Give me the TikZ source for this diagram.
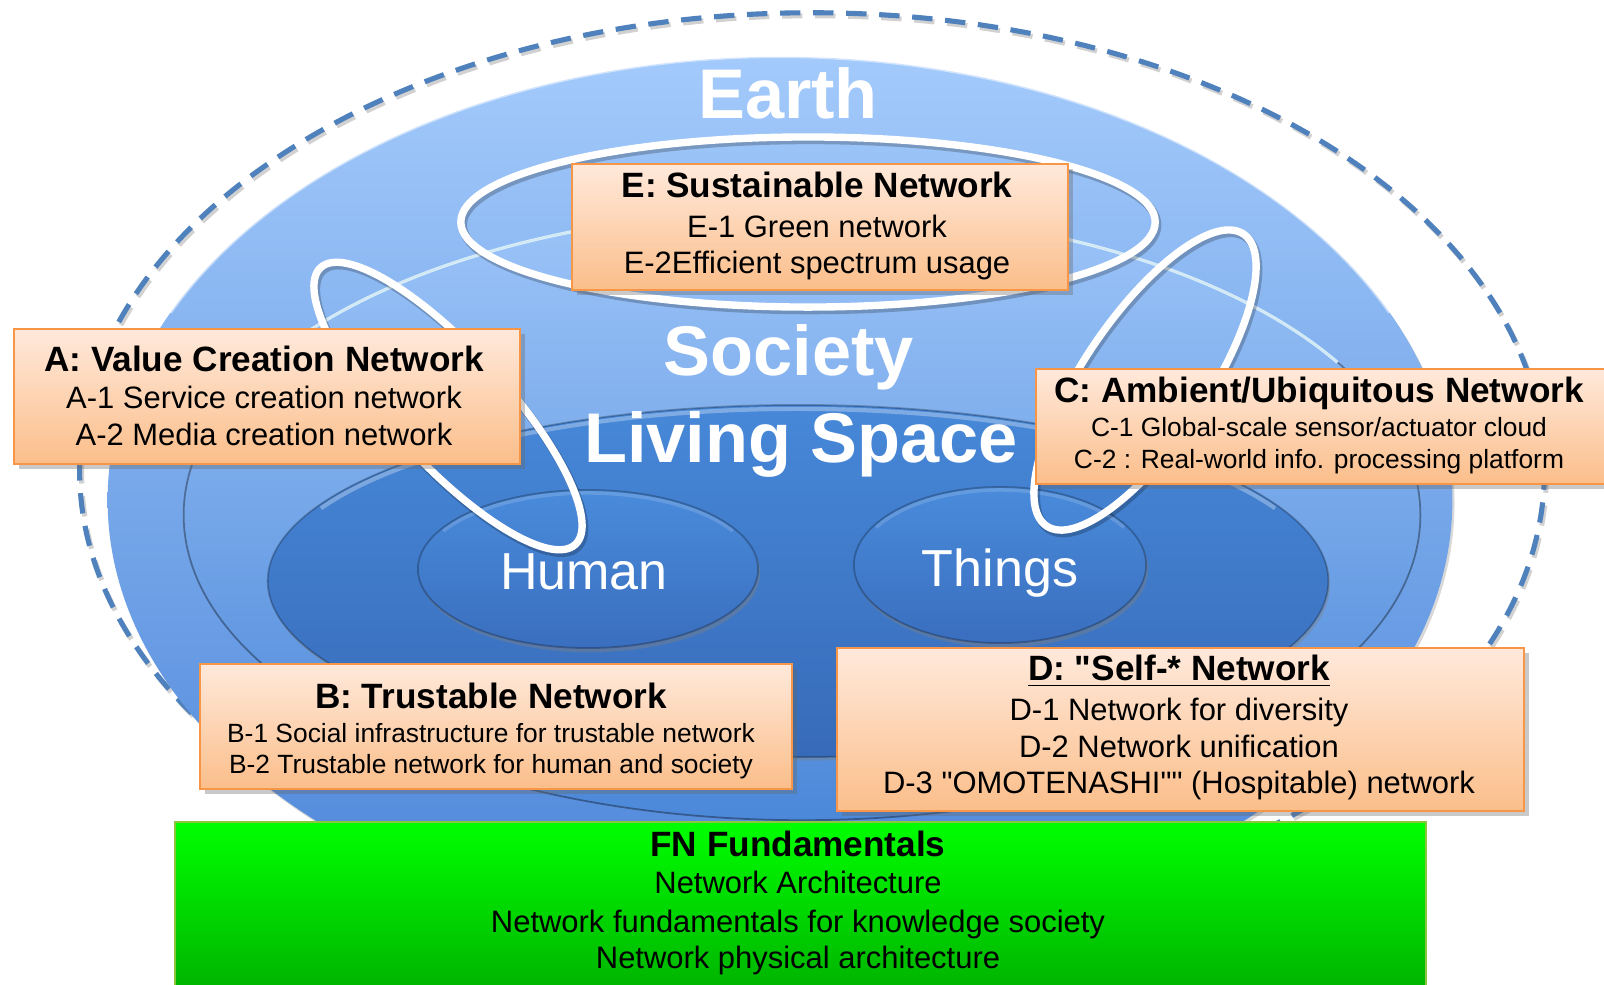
\documentclass[tikz,border=0pt]{standalone}
\usepackage{fontspec}
\setmainfont{Liberation Sans}
\newfontfamily\libsans{Liberation Sans}
\usetikzlibrary{shadows}
\definecolor{dashblue}{HTML}{4F81BD}
\definecolor{earthT}{HTML}{A3CAFB}
\definecolor{earthB}{HTML}{4A84D8}
\definecolor{socT}{HTML}{9CC4F8}
\definecolor{socB}{HTML}{4C88D9}
\definecolor{livT}{HTML}{4788D8}
\definecolor{livB}{HTML}{376BB9}
\definecolor{humT}{HTML}{4A8BDB}
\definecolor{humB}{HTML}{3A6EBE}
\definecolor{boxT}{HTML}{FFE9DB}
\definecolor{boxB}{HTML}{FBBE8A}
\definecolor{boxD}{HTML}{F79646}
\definecolor{fnT}{HTML}{00FF00}
\definecolor{fnB}{HTML}{00B000}
\definecolor{fnD}{HTML}{8CC63F}
\newcommand\fTitle{\libsans\fontsize{10}{12}\selectfont\bfseries}
\newcommand\fLine{\libsans\fontsize{8.8}{10.5}\selectfont}
\newcommand\fSmall{\libsans\fontsize{7.5}{9}\selectfont}
\newcommand\fBig{\libsans\fontsize{20}{24}\selectfont\bfseries}
\newcommand\fMid{\libsans\fontsize{14.8}{18}\selectfont}
\tikzset{
 obox/.style={draw=boxD, line width=0.57pt, top color=boxT, bottom color=boxB, inner sep=0pt, anchor=north west,
   drop shadow={shadow xshift=1.3pt, shadow yshift=-1.3pt, opacity=0.35, fill=black!60}},
 fnbox/.style={draw=fnD, line width=0.6pt, top color=fnT, bottom color=fnB, inner sep=0pt, anchor=north west},
 txt/.style={anchor=base, inner sep=0pt, text=black},
 bigtxt/.style={anchor=base, inner sep=0pt, text=white, font=\fBig},
 midtxt/.style={anchor=base, inner sep=0pt, text=white, font=\fMid},
 dashring/.style={draw=dashblue, line width=1.45pt, dash pattern=on 5.8pt off 3.6pt},
 wloop/.style={draw=white, line width=2.1pt},
 wshadow/.style={draw=black, opacity=0.22, line width=2.4pt},
 rimlight/.style={draw=white, line width=0.8pt},
 rimdark/.style={draw=black, opacity=0.25, line width=0.5pt},
}
\begin{document}
\begin{tikzpicture}[x=0.01cm,y=-0.01cm]
\useasboundingbox (0,0) rectangle (1604,984);
\fill[white] (0,0) rectangle (1604,984);
% outer dashed ring
\draw[dashring, draw=black, opacity=0.18] (814,473) ellipse [x radius=7.32cm, y radius=4.57cm];
\draw[dashring] (812,470) ellipse [x radius=7.32cm, y radius=4.57cm];
% Earth
\path[top color=earthT, bottom color=earthB, drop shadow={shadow xshift=0.6pt, shadow yshift=-0.8pt, opacity=0.3}]
  (780,500) ellipse [x radius=6.72cm, y radius=4.43cm];
\draw[rimlight, opacity=0.5] (780,500) ++(25:6.72cm and 4.43cm) arc[start angle=25, end angle=155, x radius=6.72cm, y radius=4.43cm];
% Society
\path[top color=socT, bottom color=socB] (802,515) ellipse [x radius=6.18cm, y radius=3.05cm];
\draw[rimdark, opacity=0.35] (802,515) ellipse [x radius=6.18cm, y radius=3.05cm];
\draw[draw=cyan!12!white, line width=0.9pt, opacity=0.9] (802,515) ++(30:6.18cm and 3.05cm) arc[start angle=30, end angle=150, x radius=6.18cm, y radius=3.05cm];
% Living space
\path[top color=livT, bottom color=livB, drop shadow={shadow xshift=0.5pt, shadow yshift=-1pt, opacity=0.35}]
  (798,581) ellipse [x radius=5.30cm, y radius=1.76cm];
\draw[rimdark] (798,581) ellipse [x radius=5.30cm, y radius=1.76cm];
\draw[rimlight, opacity=0.3, line width=1.2pt] (798,581) ++(25:5.26cm and 1.72cm) arc[start angle=25, end angle=155, x radius=5.26cm, y radius=1.72cm];
% Human and Things
\path[top color=humT, bottom color=humB, drop shadow={shadow xshift=0.6pt, shadow yshift=-1.2pt, opacity=0.4}]
  (588,569) ellipse [x radius=1.70cm, y radius=0.79cm];
\draw[rimdark] (588,569) ellipse [x radius=1.70cm, y radius=0.79cm];
\draw[rimlight, opacity=0.15, line width=1pt] (588,569) ++(30:1.67cm and 0.76cm) arc[start angle=30, end angle=150, x radius=1.67cm, y radius=0.76cm];
\path[top color=humT, bottom color=humB, drop shadow={shadow xshift=0.6pt, shadow yshift=-1.2pt, opacity=0.4}]
  (1000,565) ellipse [x radius=1.46cm, y radius=0.78cm];
\draw[rimdark] (1000,565) ellipse [x radius=1.46cm, y radius=0.78cm];
\draw[rimlight, opacity=0.15, line width=1pt] (1000,565) ++(30:1.43cm and 0.75cm) arc[start angle=30, end angle=150, x radius=1.43cm, y radius=0.75cm];
% big labels
\node[bigtxt] (earth) at (788,118) {Earth};
\node[bigtxt] (society) at (789,375) {Society};
\node[bigtxt] (living) at (801,462) {Living Space};
\node[midtxt] (human) at (584,589) {Human};
\node[midtxt] (things) at (1000,586) {Things};
% white loops
\begin{scope}[shift={(450,409)}, rotate=-47.4]
  \draw[wshadow] (0,0) ellipse [x radius=1.88cm, y radius=0.57cm];
\end{scope}
\begin{scope}[shift={(448,406)}, rotate=-47.4]
  \draw[wloop] (0,0) ellipse [x radius=1.88cm, y radius=0.57cm];
\end{scope}
\begin{scope}[shift={(1147,383)}, rotate=56]
  \draw[wshadow] (0,0) ellipse [x radius=1.76cm, y radius=0.62cm];
\end{scope}
\begin{scope}[shift={(1145,380)}, rotate=56]
  \draw[wloop] (0,0) ellipse [x radius=1.76cm, y radius=0.62cm];
\end{scope}
\draw[wshadow] (810,225) ellipse [x radius=3.47cm, y radius=0.85cm];
\draw[wloop] (808,222) ellipse [x radius=3.47cm, y radius=0.85cm];
% E box
\node[obox, minimum width=4.96cm, minimum height=1.26cm] (boxE) at (571,163) {};
\node[txt, font=\fTitle] (eT) at (817,197) {E: Sustainable Network};
\node[txt, font=\fLine] (e1) at (817,237) {E-1 Green network};
\node[txt, font=\fLine] (e2) at (817,273) {E-2Efficient spectrum usage};
% A box
\node[obox, minimum width=5.06cm, minimum height=1.35cm] (boxA) at (13,328) {};
\node[txt, font=\fTitle] (aT) at (264,371) {A: Value Creation Network};
\node[txt, font=\fLine] (a1) at (264,408) {A-1 Service creation network};
\node[txt, font=\fLine] (a2) at (264,445) {A-2 Media creation network};
% C box
\node[obox, minimum width=5.75cm, minimum height=1.15cm] (boxC) at (1035,368) {};
\node[txt, font=\fTitle] (cT) at (1319,402) {C: Ambient/Ubiquitous Network};
\node[txt, font=\fSmall] (c1) at (1319,436) {C-1 Global-scale sensor/actuator cloud};
\node[txt, font=\fSmall] (c2) at (1319,468) {C-2 : Real-world info. processing platform};
% B box
\node[obox, minimum width=5.92cm, minimum height=1.25cm] (boxB) at (199,663) {};
\node[txt, font=\fTitle] (bT) at (491,708) {B: Trustable Network};
\node[txt, font=\fSmall] (b1) at (491,742) {B-1 Social infrastructure for trustable network};
\node[txt, font=\fSmall] (b2) at (491,773) {B-2 Trustable network for human and society};
% D box
\node[obox, minimum width=6.87cm, minimum height=1.63cm] (boxD) at (836,647) {};
\node[txt, font=\fTitle] (dT) at (1179,680) {\underline{D: "Self-* Network}};
\node[txt, font=\fLine] (d1) at (1179,720) {D-1 Network for diversity};
\node[txt, font=\fLine] (d2) at (1179,757) {D-2 Network unification};
\node[txt, font=\fLine] (d3) at (1179,793) {D-3 "OMOTENASHI"" (Hospitable) network};
% FN box
\node[fnbox, minimum width=12.50cm, minimum height=1.75cm] (boxFN) at (174,821) {};
\node[txt, font=\fTitle] (fT) at (798,856) {FN Fundamentals};
\node[txt, font=\fLine] (f1) at (798,893) {Network Architecture};
\node[txt, font=\fLine] (f2) at (798,932) {Network fundamentals for knowledge society};
\node[txt, font=\fLine] (f3) at (798,968) {Network physical architecture};
\end{tikzpicture}
\end{document}
